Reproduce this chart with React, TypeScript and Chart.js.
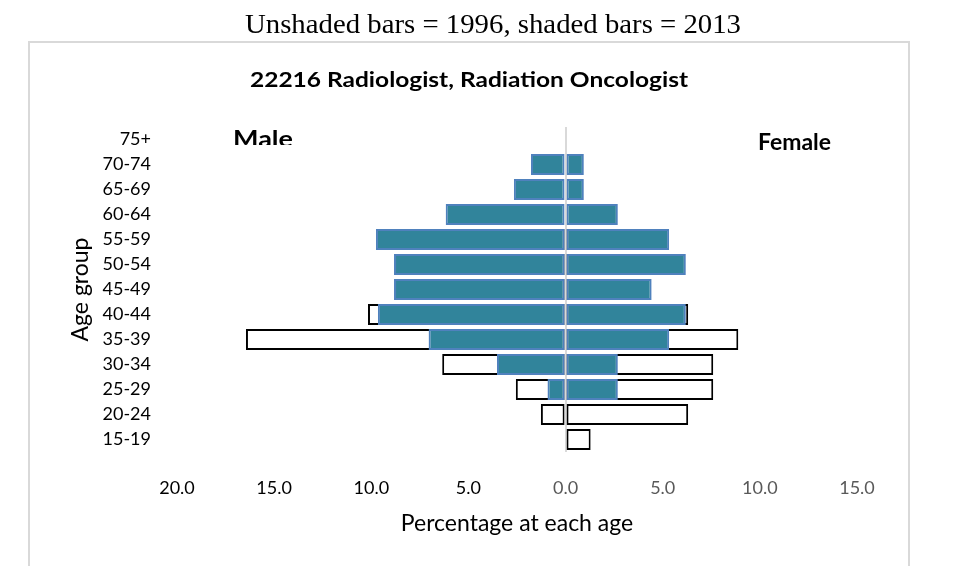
import React, { useEffect, useRef } from 'react';
import { Chart, registerables } from 'chart.js';

Chart.register(...registerables);

const W = 963;
const H = 566;

const ageGroups = ['75+', '70-74', '65-69', '60-64', '55-59', '50-54', '45-49', '40-44', '35-39', '30-34', '25-29', '20-24', '15-19'];
// shaded bars = 2013
const male2013 = [0, 1.78, 2.66, 6.17, 9.76, 8.83, 8.83, 9.66, 7.05, 3.53, 0.93, 0, 0];
const female2013 = [0, 0.94, 0.94, 2.69, 5.33, 6.19, 4.43, 6.19, 5.33, 2.69, 2.69, 0, 0];
// unshaded bars = 1996
const male1996 = [0, 0, 0, 0, 5.1, 3.8, 6.4, 10.17, 16.45, 6.35, 2.56, 1.27, 0];
const female1996 = [0, 0, 0, 0, 2.54, 2.54, 2.54, 6.31, 8.89, 7.6, 7.6, 6.31, 1.29];

const xMin = -20;
const xMax = 15;
const xStep = 5;

const topTitle = 'Unshaded bars = 1996, shaded bars = 2013';
const chartTitle = '22216 Radiologist, Radiation Oncologist';
const xTitle = 'Percentage at each age';
const yTitle = 'Age group';

const SHADED_FILL = '#31849B';
const SHADED_BORDER = '#4F81BD';

function fitText(ctx: CanvasRenderingContext2D, text: string, x: number, y: number, width: number, font: string, color: string) {
  ctx.save();
  ctx.font = font;
  ctx.fillStyle = color;
  ctx.textAlign = 'left';
  ctx.textBaseline = 'alphabetic';
  const m = ctx.measureText(text).width;
  ctx.translate(x, y);
  ctx.scale(width / m, 1);
  ctx.fillText(text, 0, 0);
  ctx.restore();
}

const overlayPlugin = {
  id: 'overlay',
  beforeDraw(chart: any) {
    const ctx = chart.ctx as CanvasRenderingContext2D;
    ctx.save();
    ctx.fillStyle = '#ffffff';
    ctx.fillRect(0, 0, W, H);
    ctx.strokeStyle = '#d9d9d9';
    ctx.lineWidth = 2;
    ctx.strokeRect(29, 42, 880, 560);
    ctx.restore();
  },
  afterDraw(chart: any) {
    const ctx = chart.ctx as CanvasRenderingContext2D;
    fitText(ctx, topTitle, 245, 33, 496, '28px "Liberation Serif"', '#000000');
    fitText(ctx, chartTitle, 250, 87, 438, 'bold 21px Lato', '#000000');
    ctx.save();
    ctx.beginPath();
    ctx.rect(0, 0, W, 145);
    ctx.clip();
    fitText(ctx, 'Male', 233, 147, 60, 'bold 23px Lato', '#000000');
    ctx.restore();
    fitText(ctx, 'Female', 758, 150, 73, 'bold 22px Lato', '#000000');
  },
};

const toNeg = (arr: number[]) => arr.map((v) => (v ? -v : null));
const toPos = (arr: number[]) => arr.map((v) => (v ? v : null));

export default function App() {
  const ref = useRef<HTMLCanvasElement | null>(null);

  useEffect(() => {
    if (!ref.current) return;
    const chart = new Chart(ref.current, {
      type: 'bar',
      data: {
        labels: ageGroups,
        datasets: [
          { label: 'Male 2013', data: toNeg(male2013), backgroundColor: SHADED_FILL, borderColor: SHADED_BORDER, borderWidth: 2 },
          { label: 'Female 2013', data: toPos(female2013), backgroundColor: SHADED_FILL, borderColor: SHADED_BORDER, borderWidth: 2 },
          { label: 'Male 1996', data: toNeg(male1996), backgroundColor: '#ffffff', borderColor: '#000000', borderWidth: 2 },
          { label: 'Female 1996', data: toPos(female1996), backgroundColor: '#ffffff', borderColor: '#000000', borderWidth: 2 },
        ] as any,
      },
      options: {
        indexAxis: 'y',
        responsive: false,
        maintainAspectRatio: false,
        animation: false,
        layout: { padding: { top: 127, right: 106, bottom: 0, left: 0 } },
        plugins: {
          legend: { display: false },
          tooltip: { enabled: false },
          title: { display: false },
        },
        datasets: {
          bar: {
            grouped: false,
            categoryPercentage: 1,
            barPercentage: 0.84,
            borderSkipped: false,
          },
        },
        scales: {
          x: {
            type: 'linear',
            min: xMin,
            max: xMax,
            z: 1,
            ticks: {
              stepSize: xStep,
              callback: (v: any) => Math.abs(Number(v)).toFixed(1),
              color: (c: any) => (c.tick && c.tick.value < 0 ? '#000000' : '#595959'),
              font: { family: 'Lato', size: 18 },
              padding: 25,
            },
            grid: {
              drawTicks: false,
              color: (c: any) => (c.tick && c.tick.value === 0 ? '#d9d9d9' : 'rgba(0,0,0,0)'),
              lineWidth: 2,
            },
            border: { display: false },
            title: {
              display: true,
              text: xTitle,
              color: '#000000',
              font: { family: 'Lato', size: 23 },
              padding: { top: 0, bottom: 29 },
            },
            afterFit: (s: any) => {
              s.height = 114;
            },
          },
          y: {
            type: 'category',
            ticks: {
              color: '#000000',
              font: { family: 'Lato', size: 18 },
              padding: 26,
            },
            grid: { display: false, drawTicks: false },
            border: { display: false },
            title: {
              display: true,
              text: yTitle,
              color: '#000000',
              font: { family: 'Lato', size: 23 },
              padding: { top: 67, bottom: 0 },
            },
            afterFit: (s: any) => {
              s.width = 177;
            },
          },
        },
      } as any,
      plugins: [overlayPlugin],
    });
    return () => chart.destroy();
  }, []);

  return (
    <div style={{ position: 'absolute', left: 0, top: 0, width: W, height: H, background: '#fff' }}>
      <canvas ref={ref} width={W} height={H} style={{ display: 'block', width: W, height: H }} />
    </div>
  );
}
